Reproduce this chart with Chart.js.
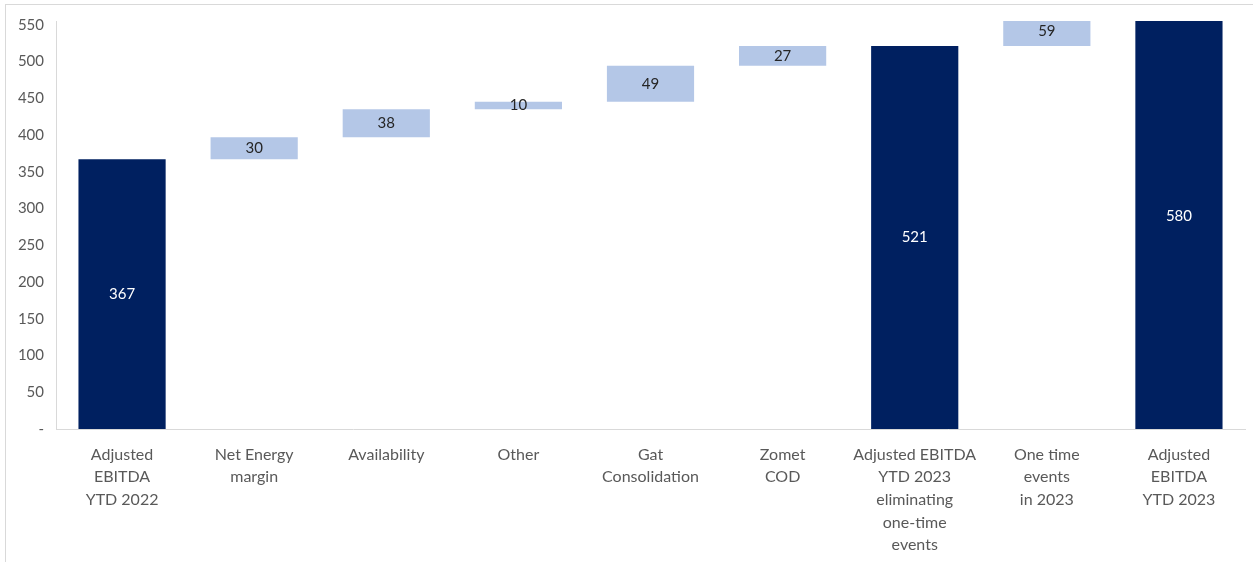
<!DOCTYPE html>
<html>
<head>
<meta charset="utf-8">
<script src="https://cdn.jsdelivr.net/npm/chart.js@4.4.0/dist/chart.umd.min.js"></script>
<style>
  html, body { margin: 0; padding: 0; background: #fff; }
  #wrap { position: relative; width: 1253px; height: 562px; overflow: hidden; }
  #frame { position: absolute; left: 5px; top: 4px; width: 1300px; height: 600px;
           border-top: 1px solid #d9d9d9; border-left: 1px solid #d9d9d9; }
  #bridge { position: absolute; left: 0; top: 0; }
</style>
</head>
<body>
<div id="wrap">
  <div id="frame"></div>
  <canvas id="bridge" width="1253" height="562"></canvas>
</div>
<script>
var labels = [
  ["Adjusted", "EBITDA", "YTD 2022"],
  ["Net Energy", "margin"],
  "Availability",
  "Other",
  ["Gat", "Consolidation"],
  ["Zomet", "COD"],
  ["Adjusted EBITDA", "YTD 2023", "eliminating", "one-time", "events"],
  ["One time", "events", "in 2023"],
  ["Adjusted", "EBITDA", "YTD 2023"]
];
// totals start from zero, the rest are steps on top of the running sum
var values = [367, 30, 38, 10, 49, 27, 521, 59, 580];
var isTotal = [true, false, false, false, false, false, true, false, true];

var yMax = 555;
var yTicks = [0, 50, 100, 150, 200, 250, 300, 350, 400, 450, 500, 550];

var navy = "#002060";
var lightBlue = "#B4C7E7";
var greyText = "#595959";

var ranges = [];
var running = 0;
for (var i = 0; i < values.length; i++) {
  if (isTotal[i]) {
    ranges.push([0, values[i]]);
    running = values[i];
  } else {
    ranges.push([running, running + values[i]]);
    running += values[i];
  }
}

// value labels in the middle of each bar
var barLabels = {
  id: "barLabels",
  afterDatasetsDraw: function (chart) {
    var ctx = chart.ctx;
    var area = chart.chartArea;
    var meta = chart.getDatasetMeta(0);
    ctx.save();
    ctx.font = "15px Lato";
    ctx.textAlign = "center";
    ctx.textBaseline = "middle";
    meta.data.forEach(function (bar, i) {
      var y = (bar.y + bar.base) / 2;
      if (y < area.top + 10) y = area.top + 10;
      ctx.fillStyle = isTotal[i] ? "#ffffff" : "#262626";
      ctx.fillText(String(values[i]), bar.x, y);
    });
    ctx.restore();
  }
};

new Chart("bridge", {
  type: "bar",
  data: {
    labels: labels,
    datasets: [{
      data: ranges,
      backgroundColor: isTotal.map(function (t) { return t ? navy : lightBlue; }),
      barPercentage: 0.66,
      categoryPercentage: 1,
      borderSkipped: false
    }]
  },
  options: {
    responsive: false,
    animation: false,
    layout: { padding: { top: 21, right: 8, left: 0, bottom: 0 } },
    plugins: {
      legend: { display: false },
      tooltip: { enabled: false }
    },
    scales: {
      x: {
        grid: { display: false, drawTicks: false },
        border: { display: true, color: "#d9d9d9", width: 1 },
        ticks: {
          color: greyText,
          font: { family: "Lato", size: 16, lineHeight: 1.42 },
          padding: 14,
          maxRotation: 0,
          autoSkip: false
        },
        afterFit: function (scale) { scale.height = 133; }
      },
      y: {
        min: 0,
        max: yMax,
        grid: { display: false, drawTicks: false },
        border: { display: true, color: "#d9d9d9", width: 1 },
        afterBuildTicks: function (scale) {
          scale.ticks = yTicks.map(function (v) { return { value: v }; });
        },
        ticks: {
          color: greyText,
          font: { family: "Lato", size: 15 },
          padding: 12,
          callback: function (v) { return v === 0 ? "-" : v; }
        },
        afterFit: function (scale) { scale.width = 56; }
      }
    }
  },
  plugins: [barLabels]
});
</script>
</body>
</html>
